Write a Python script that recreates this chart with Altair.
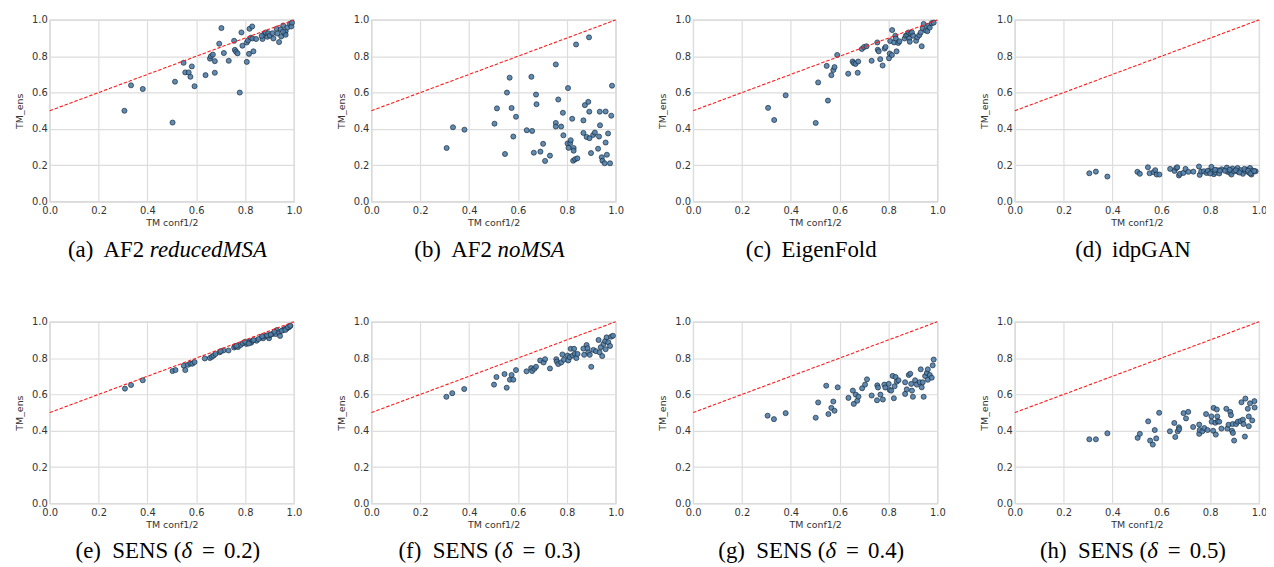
import altair as alt
import pandas as pd

# ---------------- data ----------------
TICKS = [0.0, 0.2, 0.4, 0.6, 0.8, 1.0]
ref_x = [0.0, 1.0]
ref_y = [0.5, 1.0]

x_a = [0.306,0.333,0.381,0.503,0.513,0.548,0.555,0.569,0.576,0.582,0.593,0.638,0.656,0.660,0.668,0.676,0.676,0.694,0.703,0.713,0.733,0.755,0.758,0.763,0.769,0.778,0.785,0.789,0.807,0.807,0.812,0.816,0.818,0.823,0.829,0.830,0.834,0.845,0.871,0.878,0.884,0.891,0.895,0.901,0.912,0.916,0.929,0.932,0.939,0.946,0.948,0.956,0.962,0.966,0.966,0.973,0.984,0.989,0.992,0.868,0.955]
y_a = [0.500,0.640,0.620,0.435,0.660,0.764,0.711,0.711,0.687,0.744,0.635,0.696,0.787,0.800,0.809,0.773,0.709,0.869,0.955,0.818,0.775,0.885,0.835,0.825,0.816,0.600,0.931,0.858,0.769,0.876,0.887,0.813,0.951,0.902,0.964,0.898,0.827,0.895,0.895,0.922,0.931,0.907,0.927,0.913,0.927,0.898,0.951,0.925,0.878,0.949,0.909,0.969,0.927,0.938,0.918,0.958,0.978,0.964,0.985,0.912,0.935]

x_b = [0.308,0.334,0.381,0.504,0.514,0.547,0.555,0.566,0.574,0.581,0.592,0.636,0.655,0.658,0.665,0.674,0.676,0.692,0.703,0.711,0.731,0.755,0.755,0.755,0.765,0.777,0.784,0.786,0.803,0.805,0.807,0.814,0.816,0.822,0.826,0.828,0.828,0.834,0.838,0.843,0.868,0.868,0.874,0.881,0.888,0.891,0.892,0.893,0.899,0.908,0.915,0.928,0.932,0.935,0.936,0.943,0.946,0.955,0.959,0.959,0.964,0.969,0.977,0.982,0.985]
y_b = [0.295,0.409,0.396,0.429,0.513,0.262,0.600,0.682,0.515,0.358,0.467,0.393,0.687,0.389,0.269,0.589,0.536,0.275,0.318,0.224,0.253,0.755,0.433,0.413,0.562,0.413,0.489,0.365,0.320,0.625,0.296,0.322,0.338,0.456,0.225,0.295,0.280,0.233,0.865,0.238,0.447,0.378,0.531,0.356,0.549,0.904,0.495,0.349,0.267,0.367,0.380,0.291,0.358,0.495,0.420,0.244,0.225,0.211,0.496,0.325,0.258,0.375,0.211,0.473,0.638]

x_c = [0.307,0.332,0.379,0.502,0.512,0.552,0.547,0.566,0.574,0.579,0.590,0.635,0.653,0.658,0.665,0.676,0.674,0.691,0.700,0.710,0.731,0.754,0.756,0.760,0.766,0.776,0.784,0.788,0.802,0.805,0.807,0.814,0.815,0.823,0.828,0.830,0.833,0.840,0.845,0.866,0.871,0.877,0.882,0.885,0.887,0.890,0.896,0.901,0.913,0.918,0.926,0.932,0.936,0.940,0.944,0.953,0.959,0.963,0.969,0.977,0.985]
y_c = [0.516,0.449,0.585,0.433,0.656,0.556,0.747,0.696,0.724,0.740,0.807,0.704,0.771,0.762,0.758,0.771,0.709,0.840,0.851,0.855,0.775,0.876,0.836,0.827,0.784,0.749,0.842,0.851,0.789,0.815,0.884,0.807,0.944,0.876,0.913,0.898,0.827,0.873,0.882,0.898,0.913,0.918,0.931,0.898,0.880,0.925,0.931,0.913,0.885,0.904,0.916,0.931,0.855,0.955,0.978,0.942,0.938,0.967,0.958,0.982,0.985]

x_d = [0.305,0.332,0.379,0.502,0.512,0.545,0.552,0.568,0.575,0.581,0.592,0.636,0.654,0.661,0.665,0.672,0.676,0.690,0.699,0.711,0.731,0.754,0.757,0.763,0.774,0.785,0.793,0.805,0.810,0.815,0.822,0.830,0.837,0.847,0.868,0.871,0.882,0.887,0.891,0.898,0.912,0.915,0.925,0.934,0.943,0.950,0.958,0.963,0.969,0.974,0.986,0.790,0.820,0.860,0.880,0.905,0.920,0.940,0.955,0.965,0.980,0.840,0.800]
y_d = [0.156,0.165,0.138,0.164,0.153,0.189,0.156,0.162,0.173,0.149,0.149,0.180,0.169,0.185,0.189,0.144,0.153,0.158,0.180,0.164,0.165,0.193,0.147,0.165,0.167,0.158,0.167,0.191,0.164,0.151,0.160,0.173,0.155,0.178,0.187,0.164,0.158,0.149,0.182,0.167,0.185,0.164,0.173,0.153,0.169,0.176,0.160,0.185,0.149,0.171,0.167,0.170,0.175,0.170,0.175,0.172,0.160,0.180,0.170,0.155,0.168,0.170,0.155]

x_e = [0.308,0.333,0.381,0.503,0.515,0.549,0.555,0.566,0.576,0.584,0.593,0.635,0.656,0.664,0.671,0.679,0.696,0.711,0.732,0.755,0.760,0.771,0.782,0.790,0.805,0.810,0.820,0.825,0.831,0.847,0.867,0.874,0.884,0.894,0.898,0.901,0.912,0.925,0.930,0.939,0.943,0.955,0.962,0.972,0.978,0.984,0.700,0.765,0.800,0.815,0.835,0.855,0.870,0.890,0.905,0.920,0.950,0.965,0.975,0.985]
y_e = [0.632,0.652,0.678,0.729,0.734,0.758,0.734,0.763,0.770,0.769,0.778,0.798,0.801,0.807,0.814,0.823,0.832,0.842,0.842,0.858,0.865,0.861,0.872,0.882,0.878,0.887,0.891,0.885,0.896,0.896,0.913,0.909,0.922,0.918,0.909,0.927,0.933,0.933,0.954,0.940,0.922,0.954,0.960,0.964,0.969,0.976,0.838,0.868,0.890,0.880,0.900,0.905,0.920,0.925,0.930,0.945,0.950,0.955,0.970,0.978]

x_f = [0.307,0.331,0.380,0.502,0.512,0.545,0.554,0.567,0.574,0.581,0.592,0.635,0.654,0.658,0.667,0.674,0.691,0.705,0.711,0.731,0.757,0.759,0.765,0.777,0.782,0.788,0.803,0.806,0.812,0.816,0.824,0.830,0.833,0.839,0.844,0.868,0.871,0.881,0.885,0.888,0.894,0.900,0.909,0.919,0.930,0.934,0.939,0.945,0.950,0.957,0.959,0.963,0.970,0.977,0.982,0.989]
y_f = [0.587,0.607,0.630,0.654,0.696,0.712,0.637,0.681,0.707,0.681,0.734,0.727,0.745,0.729,0.741,0.752,0.787,0.776,0.794,0.743,0.794,0.781,0.767,0.776,0.820,0.791,0.814,0.787,0.805,0.851,0.814,0.851,0.823,0.800,0.823,0.852,0.818,0.872,0.854,0.831,0.818,0.752,0.845,0.838,0.900,0.832,0.860,0.811,0.878,0.894,0.849,0.914,0.887,0.867,0.918,0.923]

x_g = [0.305,0.331,0.379,0.502,0.512,0.545,0.554,0.566,0.574,0.579,0.592,0.636,0.654,0.658,0.666,0.672,0.677,0.692,0.704,0.712,0.731,0.753,0.754,0.757,0.767,0.777,0.783,0.787,0.801,0.805,0.811,0.817,0.822,0.825,0.829,0.834,0.841,0.868,0.868,0.875,0.883,0.889,0.893,0.896,0.900,0.909,0.916,0.928,0.932,0.936,0.940,0.944,0.950,0.957,0.961,0.961,0.969,0.977,0.981,0.985]
y_g = [0.483,0.464,0.497,0.472,0.556,0.648,0.492,0.526,0.561,0.510,0.639,0.581,0.621,0.548,0.599,0.565,0.588,0.634,0.654,0.683,0.594,0.568,0.650,0.638,0.599,0.572,0.654,0.638,0.658,0.625,0.621,0.702,0.579,0.645,0.696,0.670,0.678,0.667,0.603,0.628,0.707,0.714,0.658,0.621,0.587,0.678,0.654,0.667,0.738,0.639,0.667,0.587,0.701,0.718,0.738,0.681,0.707,0.692,0.760,0.792]

x_h = [0.305,0.332,0.379,0.503,0.512,0.546,0.554,0.565,0.573,0.579,0.591,0.635,0.653,0.657,0.667,0.672,0.673,0.691,0.701,0.710,0.730,0.755,0.755,0.757,0.768,0.776,0.783,0.789,0.805,0.806,0.812,0.814,0.821,0.823,0.827,0.829,0.831,0.837,0.846,0.866,0.870,0.875,0.882,0.885,0.889,0.892,0.893,0.898,0.906,0.913,0.924,0.928,0.934,0.936,0.942,0.944,0.954,0.958,0.958,0.963,0.972,0.981,0.982]
y_h = [0.353,0.353,0.386,0.361,0.383,0.452,0.346,0.324,0.404,0.358,0.499,0.397,0.443,0.366,0.397,0.419,0.408,0.497,0.468,0.504,0.421,0.434,0.383,0.404,0.397,0.415,0.492,0.404,0.479,0.450,0.400,0.526,0.444,0.379,0.517,0.479,0.452,0.450,0.412,0.521,0.412,0.433,0.504,0.486,0.400,0.437,0.388,0.346,0.437,0.450,0.454,0.557,0.461,0.437,0.368,0.577,0.521,0.479,0.425,0.551,0.457,0.563,0.528]

# caption pieces: (text, italic, gap before in em)
cap_a = [("(a)", False, 0), ("AF2", False, 0.45), ("reducedMSA", True, 0.25)]
cap_b = [("(b)", False, 0), ("AF2", False, 0.45), ("noMSA", True, 0.25)]
cap_c = [("(c)", False, 0), ("EigenFold", False, 0.45)]
cap_d = [("(d)", False, 0), ("idpGAN", False, 0.45)]
cap_e = [("(e)", False, 0), ("SENS (", False, 0.5), ("δ", True, 0), ("=", False, 0.4), ("0.2)", False, 0.4)]
cap_f = [("(f)", False, 0), ("SENS (", False, 0.5), ("δ", True, 0), ("=", False, 0.4), ("0.3)", False, 0.4)]
cap_g = [("(g)", False, 0), ("SENS (", False, 0.5), ("δ", True, 0), ("=", False, 0.4), ("0.4)", False, 0.4)]
cap_h = [("(h)", False, 0), ("SENS (", False, 0.5), ("δ", True, 0), ("=", False, 0.4), ("0.5)", False, 0.4)]

# ---------------- layout / style ----------------
W, H = 246, 183
CAP_SIZE = 23
CAP_DY_TOP = 56
CAP_DY_BOTTOM = 55
PT_FILL = "#4f7eab"
PT_EDGE = "#1c2c3c"

RG = {'(':333, ')':333, ' ':250, 'a':444, 'b':500, 'c':444, 'd':500, 'e':444, 'f':333,
      'g':500, 'h':500, 'i':278, 'l':278, 'n':500, 'o':500, 'p':500, 'A':722, 'F':556,
      'E':611, 'G':722, 'N':722, 'S':556, 'M':889, '=':564, '.':250, '0':500, '2':500,
      '3':500, '4':500, '5':500}
IT = {'r':389, 'e':444, 'd':500, 'u':500, 'c':444, 'M':833, 'S':500, 'A':611, 'n':500,
      'o':500, 'δ':500}


def seg_width(text, italic):
    tbl = IT if italic else RG
    return sum(tbl.get(ch, 500) for ch in text) * CAP_SIZE / 1000.0


def caption_layers(segs, dy):
    total = 0.0
    starts = []
    for text, ital, gap in segs:
        total += gap * CAP_SIZE
        starts.append(total)
        total += seg_width(text, ital)
    x0 = W / 2 - 4 - total / 2
    one = pd.DataFrame({"k": [0]})
    out = []
    for (text, ital, gap), s in zip(segs, starts):
        out.append(
            alt.Chart(one).mark_text(
                text=text, font="Liberation Serif", fontSize=CAP_SIZE,
                fontStyle="italic" if ital else "normal", align="left",
                baseline="alphabetic", color="black",
            ).encode(x=alt.value(x0 + s), y=alt.value(H + dy))
        )
    return out


def panel(xs, ys, segs, dy):
    df = pd.DataFrame({"conf": xs, "ens": ys})
    ref = pd.DataFrame({"conf": ref_x, "ens": ref_y})
    xenc = alt.X("conf:Q", scale=alt.Scale(domain=[0, 1], nice=False, zero=False),
                 axis=alt.Axis(values=TICKS, tickCount=12, format=".1f",
                               title="TM conf1/2", titlePadding=2, labelPadding=4,
                               labelOverlap=False, labelFlush=False))
    yenc = alt.Y("ens:Q", scale=alt.Scale(domain=[0, 1], nice=False, zero=False),
                 axis=alt.Axis(values=TICKS, tickCount=12, format=".1f",
                               title="TM_ens", titlePadding=7, labelPadding=2.5,
                               labelOverlap=False, labelFlush=False))
    pts = alt.Chart(df).mark_circle(
        size=26, color=PT_FILL, fillOpacity=0.9, stroke=PT_EDGE, strokeWidth=0.7,
        opacity=1,
    ).encode(x=xenc, y=yenc)
    line = alt.Chart(ref).mark_line(
        color="#ff1a1a", strokeDash=[3.5, 1.8], strokeWidth=1.1
    ).encode(x="conf:Q", y="ens:Q")
    return alt.layer(pts, line, *caption_layers(segs, dy)).properties(width=W, height=H)


panels = [
    panel(x_a, y_a, cap_a, CAP_DY_TOP), panel(x_b, y_b, cap_b, CAP_DY_TOP),
    panel(x_c, y_c, cap_c, CAP_DY_TOP), panel(x_d, y_d, cap_d, CAP_DY_TOP),
    panel(x_e, y_e, cap_e, CAP_DY_BOTTOM), panel(x_f, y_f, cap_f, CAP_DY_BOTTOM),
    panel(x_g, y_g, cap_g, CAP_DY_BOTTOM), panel(x_h, y_h, cap_h, CAP_DY_BOTTOM),
]

chart = alt.concat(
    *panels, columns=4, spacing={"row": 121, "column": 78}, bounds="flush"
).properties(
    padding={"left": 5, "top": 4, "right": -2, "bottom": 0}
).configure_view(
    stroke="#cccccc", strokeWidth=1.2
).configure_axis(
    grid=True, gridColor="#dddddd", gridWidth=1.2, domain=False, ticks=False,
    labelFont="DejaVu Sans", labelFontSize=10, labelColor="#333333",
    titleFont="DejaVu Sans", titleFontSize=9.5, titleFontWeight="normal",
    titleColor="#333333",
)

chart.save("out.html", embed_options={"renderer": "svg", "actions": False})
